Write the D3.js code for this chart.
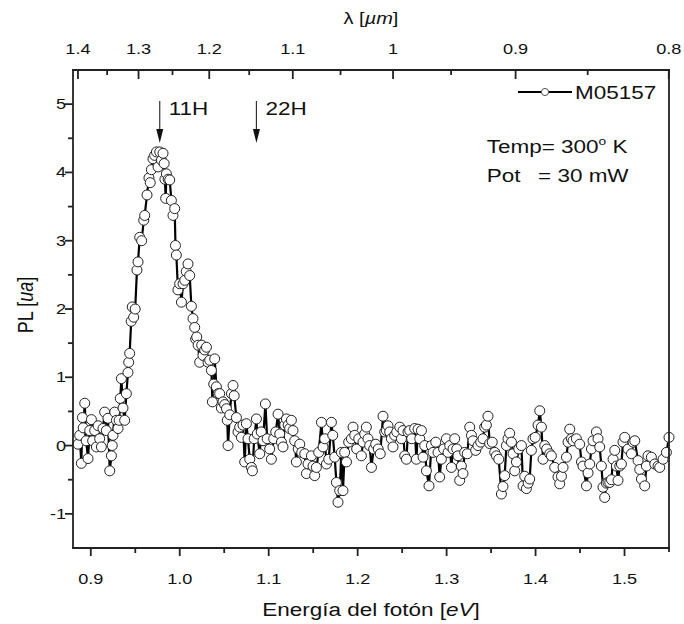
<!DOCTYPE html>
<html><head><meta charset="utf-8">
<script src="https://cdn.jsdelivr.net/npm/d3@7/dist/d3.min.js"></script>
<style>body{margin:0;background:#fff}svg{display:block}text{font-family:"Liberation Sans",Arial,sans-serif;fill:#111}</style>
</head><body><svg id="c" width="684" height="624"></svg>
<script>
// ---- data ----
const energy = [
0.8856,0.8875,0.8894,0.8906,0.8915,0.8932,0.8948,0.8969,0.8988,0.9007,
0.9021,0.9044,0.9063,0.9083,0.9100,0.9119,0.9137,0.9156,0.9175,0.9193,
0.9213,0.9232,0.9241,0.9250,0.9269,0.9288,0.9306,0.9319,0.9331,0.9344,
0.9362,0.9381,0.9400,0.9418,0.9426,0.9437,0.9454,0.9466,0.9482,0.9499,
0.9519,0.9531,0.9550,0.9572,0.9595,0.9606,0.9632,0.9654,0.9668,0.9681,
0.9699,0.9718,0.9738,0.9756,0.9775,0.9794,0.9812,0.9825,0.9833,0.9842,
0.9850,0.9870,0.9887,0.9906,0.9924,0.9943,0.9952,0.9962,0.9980,0.9999,
1.0019,1.0037,1.0056,1.0073,1.0093,1.0112,1.0131,1.0149,1.0168,1.0179,
1.0191,1.0207,1.0224,1.0247,1.0261,1.0280,1.0300,1.0318,1.0337,1.0356,
1.0367,1.0382,1.0393,1.0412,1.0432,1.0449,1.0468,1.0486,1.0505,1.0525,
1.0534,1.0543,1.0562,1.0581,1.0599,1.0612,1.0637,1.0655,1.0674,1.0693,
1.0711,1.0730,1.0749,1.0767,1.0787,1.0806,1.0817,1.0837,1.0862,1.0871,
1.0899,1.0916,1.0936,1.0963,1.0983,1.1011,1.1030,1.1056,1.1079,1.1105,
1.1124,1.1143,1.1161,1.1180,1.1199,1.1219,1.1236,1.1255,1.1273,1.1292,
1.1311,1.1332,1.1349,1.1371,1.1405,1.1424,1.1442,1.1480,1.1498,1.1517,
1.1536,1.1562,1.1593,1.1611,1.1630,1.1649,1.1675,1.1705,1.1720,1.1742,
1.1761,1.1779,1.1798,1.1817,1.1835,1.1854,1.1874,1.1899,1.1930,1.1948,
1.1967,1.1989,1.2012,1.2042,1.2060,1.2079,1.2098,1.2116,1.2135,1.2155,
1.2180,1.2203,1.2231,1.2254,1.2285,1.2304,1.2323,1.2341,1.2360,1.2379,
1.2397,1.2416,1.2439,1.2473,1.2492,1.2510,1.2529,1.2548,1.2566,1.2585,
1.2608,1.2641,1.2660,1.2679,1.2698,1.2717,1.2735,1.2754,1.2773,1.2802,
1.2829,1.2847,1.2878,1.2903,1.2922,1.2941,1.2967,1.2998,1.3016,1.3035,
1.3054,1.3072,1.3091,1.3114,1.3128,1.3147,1.3166,1.3184,1.3203,1.3232,
1.3260,1.3279,1.3297,1.3327,1.3353,1.3383,1.3409,1.3428,1.3447,1.3465,
1.3484,1.3513,1.3541,1.3560,1.3586,1.3616,1.3634,1.3653,1.3672,1.3690,
1.3709,1.3729,1.3747,1.3766,1.3785,1.3811,1.3841,1.3859,1.3878,1.3897,
1.3917,1.3934,1.3953,1.3971,1.3996,1.4028,1.4047,1.4066,1.4084,1.4103,
1.4125,1.4159,1.4178,1.4215,1.4252,1.4271,1.4291,1.4309,1.4347,1.4365,
1.4384,1.4403,1.4421,1.4459,1.4496,1.4516,1.4533,1.4572,1.4590,1.4609,
1.4628,1.4646,1.4684,1.4702,1.4721,1.4740,1.4758,1.4777,1.4796,1.4814,
1.4834,1.4853,1.4871,1.4890,1.4909,1.4927,1.4946,1.4965,1.4983,1.5002,
1.5039,1.5078,1.5096,1.5115,1.5152,1.5171,1.5190,1.5227,1.5246,1.5264,
1.5302,1.5340,1.5377,1.5396,1.5433,1.5471,1.5500];
const pl = [
0.02,0.15,-0.26,0.41,0.26,0.62,0.07,-0.19,0.22,0.38,
0.07,0.22,-0.02,0.29,0.10,-0.02,0.25,0.49,0.22,0.40,
-0.37,-0.15,0.00,0.15,0.49,0.37,0.25,0.37,0.69,0.98,
0.55,0.37,0.76,1.07,1.22,1.35,1.82,2.03,1.88,2.00,
2.57,2.69,3.05,3.00,3.30,3.37,3.67,3.92,3.85,4.04,
4.20,4.25,4.30,4.08,4.30,4.18,4.28,4.13,3.90,3.62,
3.98,3.90,3.89,3.59,3.37,3.47,2.93,2.79,2.28,2.37,
2.10,2.37,2.42,2.55,2.66,2.49,2.04,1.86,1.73,1.56,
1.59,1.47,1.22,1.47,1.32,1.40,1.44,1.22,1.25,1.10,
0.64,0.90,1.27,0.86,0.76,0.76,0.55,0.64,0.60,0.54,
0.37,0.00,0.45,0.76,0.88,0.73,0.41,0.20,0.27,0.12,
0.30,-0.24,0.32,0.10,-0.20,-0.32,-0.37,0.10,0.39,0.17,
-0.12,0.20,0.07,0.61,0.10,-0.05,-0.20,0.10,0.20,0.46,
0.17,0.05,-0.02,0.30,0.39,0.30,0.25,0.37,0.22,0.07,
-0.24,-0.05,0.02,-0.10,-0.12,-0.41,-0.27,-0.15,-0.30,-0.44,
-0.32,-0.10,0.34,-0.02,0.10,-0.27,-0.20,0.34,0.15,-0.17,
-0.54,-0.83,-0.66,-0.10,-0.66,-0.10,-0.24,0.05,0.10,0.27,
0.15,-0.05,0.10,-0.15,0.05,0.17,0.27,0.10,0.00,-0.32,
-0.05,0.02,-0.05,-0.12,0.43,0.20,0.22,0.29,0.20,0.10,
-0.02,0.15,0.20,0.27,0.10,0.22,-0.15,-0.20,0.20,0.22,
0.10,0.25,-0.20,0.24,0.10,0.22,-0.17,0.00,-0.37,-0.59,
0.00,-0.10,0.05,-0.10,-0.46,-0.20,-0.05,0.10,-0.10,0.00,
-0.32,-0.05,0.10,-0.05,-0.15,-0.51,-0.30,-0.41,-0.10,-0.12,
0.27,0.15,0.07,-0.07,0.00,0.05,0.10,0.27,0.30,0.43,
0.03,0.05,-0.10,-0.15,-0.20,-0.71,-0.60,-0.44,0.00,0.10,
0.18,0.05,-0.12,-0.37,-0.24,-0.05,0.00,-0.59,-0.45,-0.63,
-0.55,-0.49,-0.07,0.10,0.12,0.30,0.51,0.27,-0.20,0.00,
-0.05,-0.12,-0.15,-0.32,-0.46,-0.56,-0.45,-0.32,-0.17,0.05,
0.24,0.10,0.07,0.10,0.02,-0.24,-0.30,-0.59,-0.40,-0.27,
-0.05,0.07,0.20,0.10,-0.02,-0.30,-0.61,-0.76,-0.55,-0.54,
-0.54,-0.50,-0.20,-0.07,-0.30,-0.51,-0.30,-0.27,0.05,0.12,
-0.05,-0.12,0.05,0.07,-0.22,-0.35,-0.49,-0.59,-0.30,-0.15,
-0.17,-0.27,-0.30,-0.32,-0.20,-0.10,0.12];
const xTicks = [0.9,1.0,1.1,1.2,1.3,1.4,1.5];
const xMinor = [0.95,1.05,1.15,1.25,1.35,1.45];
const yTicks = [-1,0,1,2,3,4,5];
const yMinor = [-0.5,0.5,1.5,2.5,3.5,4.5];
const lambdaTicks = [1.4,1.3,1.2,1.1,1.0,0.9,0.8];
const lambdaMinor = [1.35,1.25,1.15,1.05,0.95,0.85];
const lambdaLabels = ["1.4","1.3","1.2","1.1","1","0.9","0.8"];
const arrowE = [0.9775,1.0862];
const arrowLabels = ["11H","22H"];
const seriesName = "M05157";
const HC = 1.2398; // eV·µm

// ---- layout ----
const L=73, R=669, T=70, B=548, SX=1.25;
const svg = d3.select("#c");
const x = d3.scaleLinear().domain([0.88,1.55]).range([L,R]);
const y = d3.scaleLinear().domain([-1.5,5.5]).range([B,T]);

function stext(px,py,str,size,anchor){
  return svg.append("text").attr("transform",`translate(${px},${py}) scale(${SX},1)`)
    .attr("font-size",size).attr("text-anchor",anchor||"start").text(str);
}
function seg(g,x1,y1,x2,y2,w){
  g.append("line").attr("x1",x1).attr("y1",y1).attr("x2",x2).attr("y2",y2)
    .attr("stroke","#222").attr("stroke-width",w||1.8);
}

// data line + markers
const pts = energy.map((e,i)=>[e,pl[i]]);
svg.append("path").datum(pts).attr("fill","none").attr("stroke","#000").attr("stroke-width",2.2)
  .attr("d",d3.line().x(d=>x(d[0])).y(d=>y(d[1])));
svg.append("g").selectAll("circle").data(pts).join("circle")
  .attr("cx",d=>x(d[0])).attr("cy",d=>y(d[1])).attr("r",5)
  .attr("fill","#fff").attr("stroke","#222").attr("stroke-width",1);

// frame and ticks drawn from the scales
const gF = svg.append("g");
seg(gF,L-1,T,R+1,T);
seg(gF,L-1,B,R+1,B);
seg(gF,L,T-1,L,B+1);
seg(gF,R,T-1,R,B+4);
xTicks.forEach(v=>seg(gF,x(v),B,x(v),B+8));
xMinor.forEach(v=>seg(gF,x(v),B,x(v),B+5));
yTicks.forEach(v=>seg(gF,L-8,y(v),L,y(v)));
yMinor.forEach(v=>seg(gF,L-5,y(v),L,y(v)));
lambdaTicks.forEach(l=>seg(gF,x(HC/l),T,x(HC/l),T+9));
lambdaMinor.forEach(l=>seg(gF,x(HC/l),T,x(HC/l),T+5));

// tick labels
xTicks.forEach(v=>stext(x(v),584,d3.format(".1f")(v),14.5,"middle"));
yTicks.forEach(v=>stext(L-7,y(v)+5,String(v),14.5,"end"));
lambdaTicks.forEach((l,i)=>stext(x(HC/l),54,lambdaLabels[i],14.5,"middle"));

// titles
const tTop = svg.append("text").attr("transform",`translate(${(L+R)/2},24) scale(${SX},1)`)
  .attr("font-size",16).attr("text-anchor","middle");
tTop.append("tspan").text("λ [");
tTop.append("tspan").attr("font-style","italic").text("µm");
tTop.append("tspan").text("]");

const tBot = svg.append("text").attr("transform",`translate(${(L+R)/2},616) scale(${SX},1)`)
  .attr("font-size",18).attr("text-anchor","middle");
tBot.append("tspan").text("Energía del fotón [");
tBot.append("tspan").attr("font-style","italic").text("eV");
tBot.append("tspan").text("]");

const tLeft = svg.append("text").attr("transform",`translate(33,${(T+B)/2-4}) scale(${SX},1) rotate(-90)`)
  .attr("font-size",18).attr("text-anchor","middle");
tLeft.append("tspan").text("PL [");
tLeft.append("tspan").attr("font-style","italic").text("ua");
tLeft.append("tspan").text("]");

// legend
svg.append("line").attr("x1",518).attr("x2",572).attr("y1",92).attr("y2",92).attr("stroke","#000").attr("stroke-width",2.2);
svg.append("circle").attr("cx",545).attr("cy",92).attr("r",3.6).attr("fill","#fff").attr("stroke","#555").attr("stroke-width",1);
stext(575,98.5,seriesName,18,"start");

// conditions
const t1 = svg.append("text").attr("transform",`translate(486.7,153) scale(${SX},1)`).attr("font-size",18);
t1.append("tspan").text("Temp= 300");
t1.append("tspan").attr("font-size",11).attr("dy",-8).text("o");
t1.append("tspan").attr("dy",8).text(" K");
stext(486.7,181.7,"Pot",18,"start");
stext(538,181.7,"= 30 mW",18,"start");

// arrows
arrowE.forEach((e,i)=>{
  const px = x(e);
  svg.append("line").attr("x1",px).attr("x2",px).attr("y1",101).attr("y2",132).attr("stroke","#333").attr("stroke-width",1.2);
  svg.append("path").attr("d",`M${px-3.5},${129}L${px+3.5},${129}L${px},${143}Z`).attr("fill","#111");
  stext(px+9,115,arrowLabels[i],18,"start");
});
</script></body></html>
